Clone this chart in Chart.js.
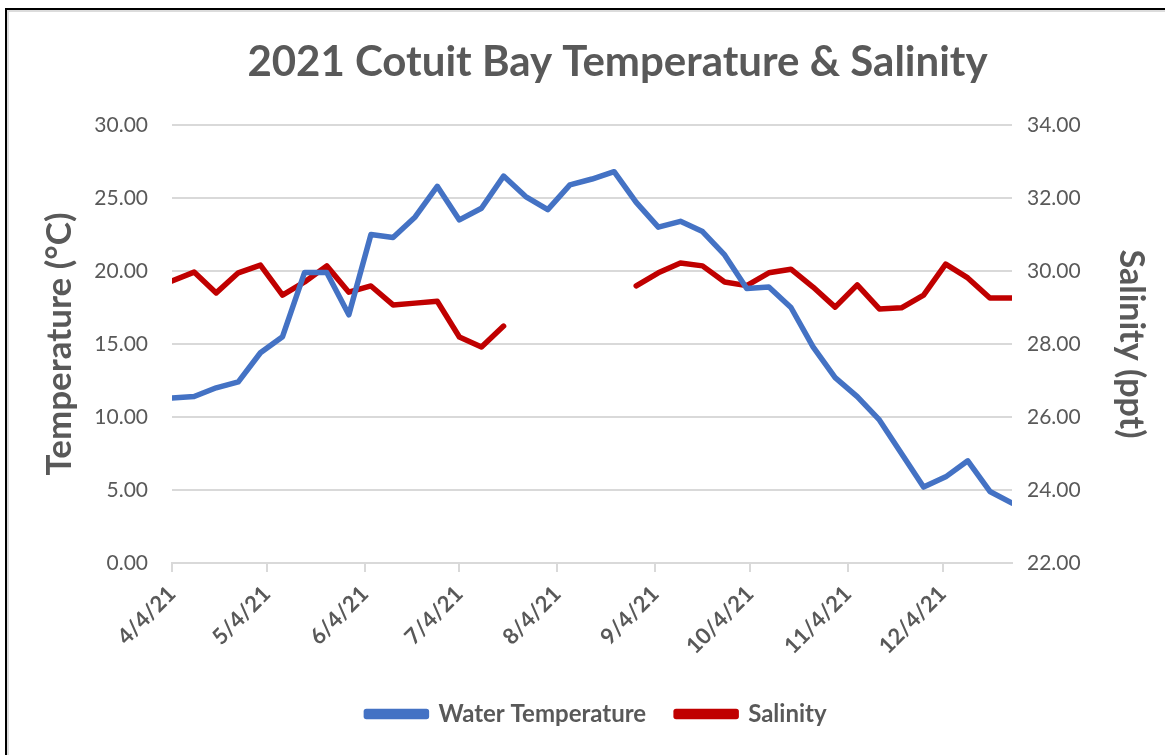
<!DOCTYPE html>
<html><head><meta charset="utf-8">
<script src="https://cdn.jsdelivr.net/npm/chart.js@4.4.0/dist/chart.umd.min.js"></script>
<style>
html,body{margin:0;padding:0;background:#fff;}
#wrap{position:relative;width:1165px;height:755px;overflow:hidden;background:#fff;}
canvas{position:absolute;left:0;top:0;}
#frame{position:absolute;left:5px;top:8px;width:1200px;height:800px;border-left:2px solid #000;border-top:2px solid #000;pointer-events:none;}
#frame:after{content:'';position:absolute;left:0;top:0;right:0;bottom:0;border-left:2px solid #dcdcdc;border-top:2px solid #dcdcdc;}
</style></head>
<body><div id="wrap"><canvas id="c" width="1165" height="755"></canvas><div id="frame"></div></div>
<script>
const sampleDates = ['2021-04-04','2021-04-11','2021-04-18','2021-04-25','2021-05-02','2021-05-09','2021-05-16','2021-05-23','2021-05-30',
  '2021-06-06','2021-06-13','2021-06-20','2021-06-27','2021-07-04','2021-07-11','2021-07-18','2021-07-25','2021-08-01',
  '2021-08-08','2021-08-15','2021-08-22','2021-08-29','2021-09-05','2021-09-12','2021-09-19','2021-09-26','2021-10-03',
  '2021-10-10','2021-10-17','2021-10-24','2021-10-31','2021-11-07','2021-11-14','2021-11-21','2021-11-28','2021-12-05',
  '2021-12-12','2021-12-19','2021-12-26'];
const waterTemperature = [11.3,11.4,12.0,12.4,14.4,15.5,19.9,19.9,17.0,22.5,22.3,23.7,25.8,23.5,24.3,26.5,25.1,24.2,
  25.9,26.3,26.8,24.7,23.0,23.4,22.7,21.1,18.8,18.9,17.5,14.8,12.7,11.4,9.8,7.5,5.2,5.9,7.0,4.9,4.1];
const salinity = [29.73,29.97,29.40,29.95,30.16,29.34,29.70,30.14,29.42,29.59,29.07,29.12,29.17,28.19,27.92,28.49,
  null,null,null,null,null,29.59,29.95,30.22,30.14,29.70,29.60,29.95,30.05,29.56,29.01,29.62,28.96,28.99,29.34,30.19,29.81,29.26,29.26];
const monthTickDates = ['2021-04-04','2021-05-04','2021-06-04','2021-07-04','2021-08-04','2021-09-04','2021-10-04','2021-11-04','2021-12-04'];
const monthTickLabels = ['4/4/21','5/4/21','6/4/21','7/4/21','8/4/21','9/4/21','10/4/21','11/4/21','12/4/21'];
const tempAxisRange = [0, 30, 5];
const salinityAxisRange = [22, 34, 2];

const DAY = 86400000;
const origin = Date.parse(sampleDates[0]);
const toDay = s => Math.round((Date.parse(s) - origin) / DAY);
const xs = sampleDates.map(toDay);
const tickDays = monthTickDates.map(toDay);
const FONT = 'Lato, "Open Sans", sans-serif';
const GRAY = '#595959';

const shiftBlocks = {
  id: 'shiftBlocks',
  afterLayout(chart) {
    if (chart.titleBlock) { chart.titleBlock.left += 70; }
    if (chart.legend) { chart.legend.left += 28; }
  }
};

const chart = new Chart(document.getElementById('c'), {
  type: 'line',
  plugins: [shiftBlocks],
  data: {
    datasets: [
      { label: 'Water Temperature', data: xs.map((x,i)=>({x, y: waterTemperature[i]})), yAxisID: 'yT',
        borderColor: '#4472C4', backgroundColor: '#4472C4', borderWidth: 5.5, pointRadius: 0, tension: 0,
        borderJoinStyle: 'round', borderCapStyle: 'round' },
      { label: 'Salinity', data: xs.map((x,i)=>({x, y: salinity[i]})), yAxisID: 'yS',
        borderColor: '#C00000', backgroundColor: '#C00000', borderWidth: 5.5, pointRadius: 0, tension: 0, spanGaps: false,
        borderJoinStyle: 'round', borderCapStyle: 'round' }
    ]
  },
  options: {
    responsive: false, animation: false,
    layout: { padding: { left: 10, right: 10, top: 0, bottom: 19 } },
    plugins: {
      tooltip: { enabled: false },
      title: { display: true, text: '2021 Cotuit Bay Temperature & Salinity', color: GRAY,
        font: { family: FONT, size: 42, weight: 'bold' }, padding: { top: 37, bottom: 37.6 } },
      legend: { position: 'bottom',
        labels: { color: GRAY, font: { family: FONT, size: 24, weight: 'bold' }, boxWidth: 60, boxHeight: 5, padding: 30 } }
    },
    scales: {
      x: { type: 'linear', min: 0, max: xs[xs.length-1],
        afterBuildTicks: s => { s.ticks = tickDays.map(v => ({ value: v })); },
        afterFit: s => { s.height = 109; },
        ticks: { autoSkip: false, minRotation: 45, maxRotation: 45, color: GRAY, padding: 9,
          font: { family: FONT, size: 22, weight: 'bold' },
          callback: (v) => { const i = tickDays.indexOf(v); return i >= 0 ? monthTickLabels[i] : ''; } },
        grid: { drawOnChartArea: false, drawTicks: true, tickLength: 9, color: '#d9d9d9', lineWidth: 2 },
        border: { display: true, color: '#d9d9d9', width: 2 }
      },
      yT: { position: 'left', min: tempAxisRange[0], max: tempAxisRange[1],
        afterFit: s => { s.width = 162; },
        ticks: { stepSize: tempAxisRange[2], color: GRAY, padding: 24, font: { family: FONT, size: 21 },
          callback: v => Number(v).toFixed(2) },
        grid: { color: '#d9d9d9', lineWidth: 2, drawTicks: false },
        border: { display: false },
        title: { display: true, text: 'Temperature (°C)', color: GRAY, font: { family: FONT, size: 35, weight: 'bold' },
          padding: { top: 29, bottom: 4 } }
      },
      yS: { position: 'right', min: salinityAxisRange[0], max: salinityAxisRange[1],
        afterFit: s => { s.width = 143; },
        ticks: { stepSize: salinityAxisRange[2], color: GRAY, padding: 15, font: { family: FONT, size: 21 },
          callback: v => Number(v).toFixed(2) },
        grid: { drawOnChartArea: false, drawTicks: false },
        border: { display: false },
        title: { display: true, text: 'Salinity (ppt)', color: GRAY, font: { family: FONT, size: 34, weight: 'bold' },
          padding: { top: 4, bottom: 4 } }
      }
    }
  }
});
</script></body></html>
